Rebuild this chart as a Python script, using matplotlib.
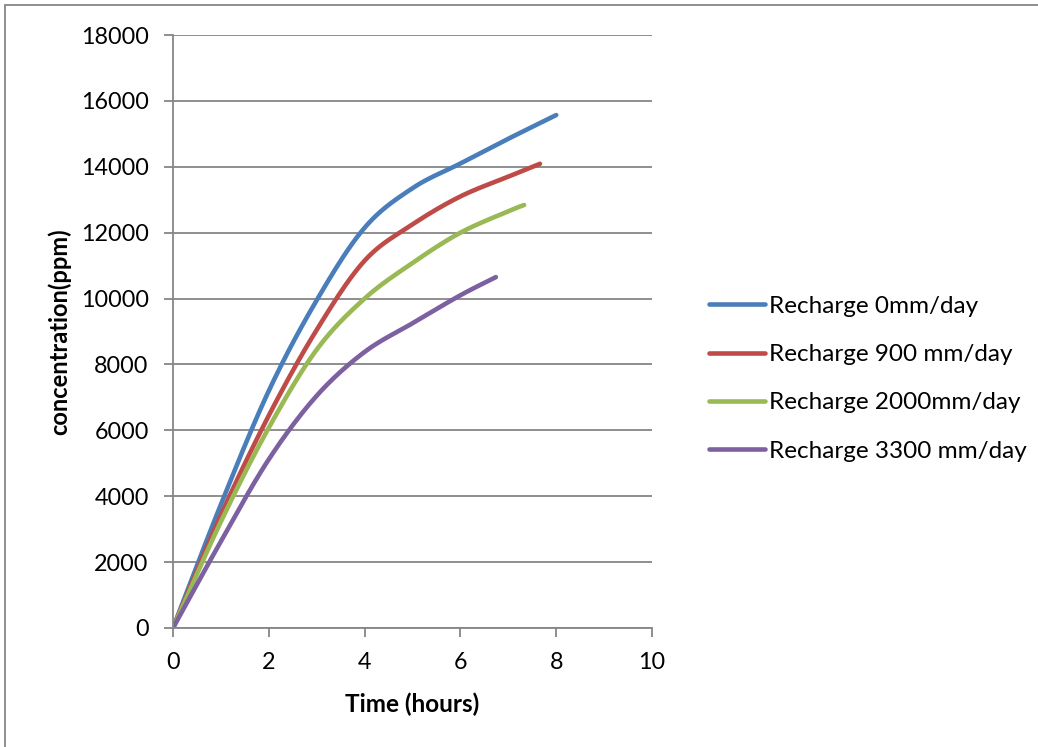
import numpy as np
import matplotlib.pyplot as plt
from matplotlib.patches import Rectangle

plt.rcParams['font.family'] = ['Lato', 'DejaVu Sans']

# values (hours, ppm)
t_0 = [0, 1, 2, 3, 4, 5, 6, 7, 8]
c_0 = [0, 3750, 7200, 9950, 12150, 13350, 14100, 14850, 15570]
t_900 = [0, 1, 2, 3, 4, 5, 6, 7, 7.66]
c_900 = [0, 3430, 6450, 9050, 11150, 12250, 13100, 13700, 14090]
t_2000 = [0, 1, 2, 3, 4, 5, 6, 7, 7.33]
c_2000 = [0, 3230, 6080, 8450, 10000, 11080, 12000, 12650, 12840]
t_3300 = [0, 1, 2, 3, 4, 5, 6, 6.74]
c_3300 = [0, 2630, 5120, 7050, 8380, 9250, 10100, 10650]

labels = ['Recharge 0mm/day', 'Recharge 900 mm/day',
          'Recharge 2000mm/day', 'Recharge 3300 mm/day']
colors = ['#4A7EBB', '#BE4B48', '#98B954', '#7D60A0']


def smooth(x, y, n=20):
    # catmull-rom style smoothing like excel's smoothed lines
    x = np.asarray(x, float)
    y = np.asarray(y, float)
    px = np.concatenate([[2*x[0]-x[1]], x, [2*x[-1]-x[-2]]])
    py = np.concatenate([[2*y[0]-y[1]], y, [2*y[-1]-y[-2]]])
    xs, ys = [], []
    s = np.linspace(0, 1, n, endpoint=False)
    for i in range(1, len(px)-2):
        for p, out in ((px, xs), (py, ys)):
            p0, p1, p2, p3 = p[i-1], p[i], p[i+1], p[i+2]
            out.extend(0.5*((2*p1) + (-p0+p2)*s + (2*p0-5*p1+4*p2-p3)*s**2
                            + (-p0+3*p1-3*p2+p3)*s**3))
    xs.append(x[-1])
    ys.append(y[-1])
    return xs, ys


fig = plt.figure(figsize=(10.38, 7.47), dpi=100)
ax = fig.add_axes([173/1038, 1-628/747, (652-173)/1038, (628-35)/747])

for t, c, lab, col in zip([t_0, t_900, t_2000, t_3300],
                          [c_0, c_900, c_2000, c_3300], labels, colors):
    xs, ys = smooth(t, c)
    ax.plot(xs, ys, color=col, lw=3.3, label=lab, solid_capstyle='round')

ax.set_xlim(0, 10)
ax.set_ylim(0, 18000)
ax.set_xticks(range(0, 11, 2))
ax.set_yticks(range(0, 18001, 2000))
ax.yaxis.grid(True, color='#868686', lw=1.3)
ax.set_axisbelow(True)
for s in ['top', 'right']:
    ax.spines[s].set_visible(False)
for s in ['left', 'bottom']:
    ax.spines[s].set_color('#868686')
    ax.spines[s].set_linewidth(1.3)
ax.tick_params(axis='both', colors='#868686', length=6.5, width=1.3,
               labelsize=16.8, labelcolor='black', pad=11)

ax.set_xlabel('Time (hours)', fontsize=17.5, fontweight='bold', labelpad=14)
ax.set_ylabel('concentration(ppm)', fontsize=17, fontweight='bold', labelpad=7)

ax.legend(loc='center left', bbox_to_anchor=(697/1038, 0.493), bbox_transform=fig.transFigure,
          frameon=False, fontsize=17.5, handlelength=2.3, handletextpad=0.17,
          labelspacing=1.12, borderpad=0)

fig.patches.append(Rectangle((5/1038, -0.05), 1.1, 1.05-5/747, transform=fig.transFigure,
                             fill=False, edgecolor='#868686', lw=1.3))

fig.savefig('out.png', dpi=100)
